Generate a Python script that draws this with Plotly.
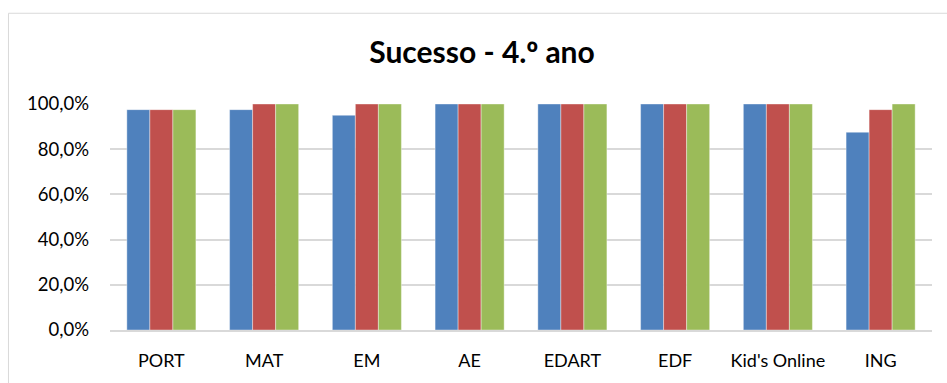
import plotly.graph_objects as go

# Success rate per subject, 4th grade, three school terms
disciplinas = ["PORT", "MAT", "EM", "AE", "EDART", "EDF", "Kid's Online", "ING"]
periodo_1 = [0.975, 0.975, 0.95, 1.0, 1.0, 1.0, 1.0, 0.875]
periodo_2 = [0.975, 1.0, 1.0, 1.0, 1.0, 1.0, 1.0, 0.975]
periodo_3 = [0.975, 1.0, 1.0, 1.0, 1.0, 1.0, 1.0, 1.0]
nomes = ["1.º período", "2.º período", "3.º período"]
cores = ["#4F81BD", "#C0504D", "#9BBB59"]
y_ticks = [0, 0.2, 0.4, 0.6, 0.8, 1.0]

FONT = "Lato, 'Open Sans', sans-serif"
GRID = "#D9D9D9"

fig = go.Figure()
for nome, valores, cor in zip(nomes, [periodo_1, periodo_2, periodo_3], cores):
    fig.add_trace(go.Bar(
        x=disciplinas, y=valores, name=nome,
        marker=dict(color=cor, line=dict(color="rgba(255,255,255,0.55)", width=0.7)),
        hovertemplate="%{x}: %{y:.1%}<extra>" + nome + "</extra>",
    ))

# Light chart-area frame (runs past the right and bottom edges)
fig.add_shape(type="rect", xref="paper", yref="paper",
              x0=-0.1235, x1=1.2, y0=-0.6, y1=1.4015,
              line=dict(color=GRID, width=1), layer="below")

titulo = ("<b>Sucesso - 4.<span style=\"font-family:'Open Sans'\">º</span> ano</b>")

fig.update_layout(
    width=947, height=383,
    margin=dict(l=110, r=15, t=104, b=51),
    paper_bgcolor="white", plot_bgcolor="white",
    barmode="group", bargap=0.328, bargroupgap=0,
    showlegend=False,
    separators=",.",
    font=dict(family=FONT, size=18, color="#000000"),
    title=dict(text=titulo, xref="container", yref="container",
               x=0.509, xanchor="center", y=0.862, yanchor="middle",
               font=dict(family=FONT, size=30, color="#000000")),
    xaxis=dict(showgrid=False, showline=True, linecolor=GRID, linewidth=1.5,
               ticks="", ticklabelstandoff=14,
               tickfont=dict(family=FONT, size=18)),
    yaxis=dict(range=[0, 1.0], tickvals=y_ticks, tickformat=".1%",
               showgrid=True, gridcolor=GRID, gridwidth=1.5,
               zeroline=False, showline=False, ticks="", ticklabelstandoff=20,
               tickfont=dict(family=FONT, size=18.5)),
)

fig.write_html("out.html")
